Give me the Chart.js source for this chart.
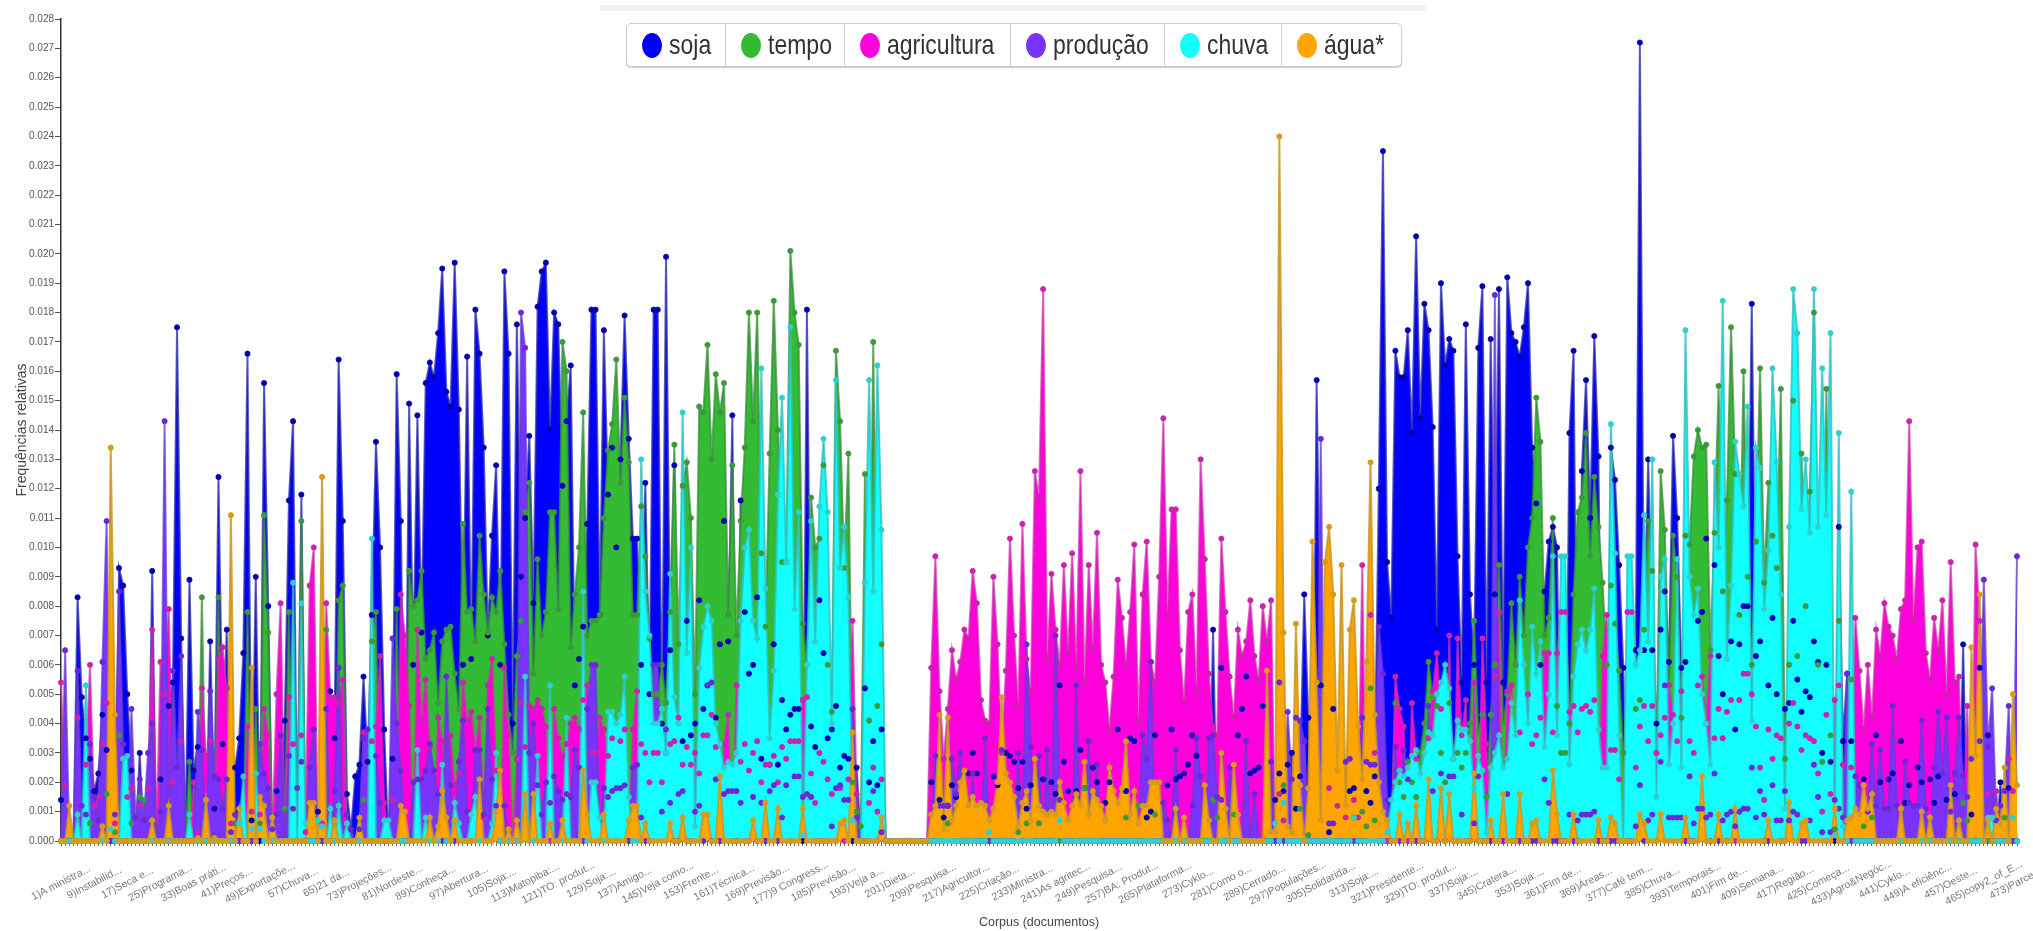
<!DOCTYPE html>
<html lang="pt">
<head>
<meta charset="utf-8">
<title>Frequências relativas</title>
<script src="https://cdn.jsdelivr.net/npm/chart.js@4/dist/chart.umd.min.js"></script>
<style>
html,body{margin:0;padding:0;background:#fff;width:2033px;height:931px;overflow:hidden;font-family:"Liberation Sans",Arial,sans-serif}
#wrap{position:relative;width:2033px;height:931px;filter:blur(.55px)}
canvas{position:absolute;left:0;top:0}
#bar{position:absolute;left:600px;top:5px;width:827px;height:6px;background:#f2f2f2}
#legend{position:absolute;left:626px;top:23px;height:42px;display:flex;border:1px solid #ccc;border-radius:5px;background:#fff;box-shadow:0 1px 1px #ccc}
.it{display:flex;align-items:center;box-sizing:border-box;padding-left:15px;border-right:1px solid #ccc;font-size:23px;color:#333;white-space:nowrap}
.it:last-child{border-right:none}
.it i{display:inline-block;width:20px;height:25px;border-radius:50%;margin-right:7px}
.it span{display:inline-block;transform:scaleY(1.18)}
</style>
</head>
<body>
<div id="wrap">
<canvas id="c" width="2033" height="931"></canvas>
<div id="bar"></div>
<div id="legend"></div>
</div>
<script>
// values are relative frequencies in units of 0.0001, one per document (473 documents), ten per row
const soja = [
14,0,0,0,83,49,35,28,17,23,
43,31,0,0,93,87,50,24,0,30,
0,0,92,0,21,0,46,54,175,69,
0,89,24,32,0,0,68,11,124,33,
72,0,25,35,64,166,7,90,0,156,
80,0,17,0,41,116,143,0,118,0,
0,0,10,0,0,51,35,164,109,16,
4,22,26,56,27,77,136,100,38,0,
28,159,109,0,149,60,145,71,156,163,
158,173,195,153,148,197,147,60,165,62,
181,166,134,70,104,128,60,194,166,40,
176,90,110,138,81,182,194,197,140,180,
176,121,143,162,53,62,73,108,181,181,
77,174,118,134,100,130,179,137,103,103,
60,122,50,181,181,40,199,65,128,0,
34,75,36,40,82,45,53,0,42,67,
109,68,145,0,116,78,57,60,83,28,
0,26,67,26,48,38,43,45,45,0,
181,39,32,82,64,35,38,46,25,29,
28,0,25,0,52,20,34,19,38,0,
0,0,0,0,0,0,0,0,0,0,
20,0,14,8,12,19,15,0,0,23,
30,23,0,0,0,22,19,0,30,29,
27,18,27,11,19,0,0,21,0,20,
16,53,27,17,0,17,31,18,0,25,
20,0,13,20,0,38,0,17,35,34,
0,0,8,10,36,0,0,19,38,21,
22,23,26,36,29,0,0,0,72,0,
59,0,0,0,36,45,56,23,24,25,
46,0,0,14,23,17,26,30,11,22,
84,42,0,157,53,0,3,45,0,0,
0,17,18,0,0,17,13,22,120,235,
95,76,167,158,158,174,139,206,144,183,
174,141,72,190,162,171,167,97,54,176,
84,60,168,189,54,171,84,188,54,192,
173,170,165,175,190,134,115,60,85,102,
107,100,0,0,139,167,0,126,157,110,
172,131,0,0,134,123,94,59,0,0,
65,272,65,130,65,40,72,85,61,138,
110,59,61,0,0,75,78,103,0,94,
63,50,0,68,38,67,80,80,183,63,
68,0,53,76,50,0,45,47,75,55,
44,51,49,68,61,30,60,27,0,107,
34,57,34,0,0,21,0,0,36,20,
0,21,23,0,34,13,19,0,25,20,
0,21,13,22,0,14,0,16,0,67,
0,9,0,59,0,36,0,0,20,0,
18,0,0];
const tempo = [
0,0,0,0,0,0,0,6,0,0,
0,16,0,3,36,0,0,6,0,15,
14,0,0,0,0,0,0,0,0,0,
0,27,0,0,83,0,0,0,83,0,
0,0,6,0,0,78,0,45,6,111,
71,0,0,0,11,78,0,0,109,0,
0,0,0,0,72,0,0,82,87,0,
0,0,0,14,0,68,78,0,0,0,
0,79,0,0,92,80,82,92,62,65,
71,47,68,72,73,57,45,108,78,79,
68,104,84,71,83,78,92,67,43,30,
63,75,112,122,57,96,70,78,112,112,
79,170,160,66,84,100,146,70,75,75,
77,110,133,142,164,122,151,129,77,77,
114,97,69,50,50,60,47,78,135,67,
121,129,110,50,148,146,169,130,159,146,
156,77,128,70,109,134,180,143,180,98,
73,132,184,140,95,95,201,180,169,74,
60,117,100,103,128,60,44,167,143,93,
132,20,10,5,125,41,170,46,67,0,
0,0,0,0,0,0,0,0,0,0,
0,0,0,0,6,0,0,0,0,0,
0,0,0,0,0,0,0,0,0,0,
0,3,0,6,0,0,6,0,0,0,
0,0,0,0,0,0,0,18,0,0,
0,0,0,0,0,0,0,8,0,0,
12,0,0,0,9,0,0,0,0,0,
0,0,0,0,0,0,0,0,14,8,
0,0,0,9,0,0,0,0,0,0,
0,0,0,0,0,19,0,0,0,11,
0,2,0,0,0,0,0,0,0,0,
0,0,8,0,10,5,52,7,0,0,
0,0,47,20,15,27,20,15,30,40,
61,49,46,30,20,47,28,30,25,30,
40,75,37,43,15,43,60,94,40,50,
81,60,90,70,100,110,151,136,70,76,
110,46,30,30,40,84,112,117,139,97,
124,107,88,60,87,74,58,30,0,0,
45,48,72,109,92,30,126,106,53,104,
90,42,104,101,131,140,134,135,65,105,
155,85,116,175,125,77,160,90,60,102,
161,88,122,104,93,154,28,60,150,63,
132,80,119,180,60,27,154,36,4,75,
0,0,55,0,0,5,0,8,0,0,
0,0,0,0,0,0,0,0,0,0,
0,0,0,0,0,0,0,0,0,13,
7,0,0,0,0,0,0,0,0,8,
0,0,0];
const agricultura = [
54,19,0,0,42,0,26,60,12,15,
33,47,0,6,0,0,15,18,0,12,
0,18,72,0,61,50,79,20,0,34,
0,0,20,3,52,29,34,0,62,66,
52,6,0,0,0,39,10,0,9,45,
36,0,50,81,0,49,33,0,36,3,
87,100,0,6,81,49,49,47,55,0,
0,0,0,37,0,34,39,63,13,0,
14,0,84,70,46,0,72,41,55,32,
0,42,34,0,36,19,23,54,41,44,
31,42,8,53,62,24,0,59,36,0,
28,47,32,46,45,48,45,39,0,45,
35,29,33,40,42,38,48,53,30,30,
42,38,29,35,0,34,38,0,38,51,
33,30,20,30,30,20,30,33,34,42,
26,32,26,30,23,36,36,43,32,0,
33,43,0,53,27,33,24,30,34,20,
26,26,29,20,32,28,34,34,34,48,
49,23,13,30,27,21,16,0,18,0,
21,75,16,0,0,13,25,10,21,0,
0,0,0,0,0,0,0,0,0,0,
59,97,51,28,45,65,55,61,72,69,
92,81,48,41,40,90,67,30,58,103,
70,46,108,62,51,126,117,188,62,91,
72,60,94,64,98,59,126,54,94,66,
105,60,54,38,56,89,76,60,78,101,
41,84,102,61,54,90,144,77,113,113,
65,47,78,84,51,130,96,57,39,36,
103,78,56,42,72,63,68,82,63,55,
80,68,82,0,16,7,0,0,0,0,
34,0,0,0,0,0,18,0,12,0,
8,0,14,8,94,0,77,30,0,0,
0,0,56,45,39,0,47,28,0,0,
35,51,64,45,0,70,0,69,36,48,
0,54,0,69,33,0,56,78,0,51,
53,0,37,0,50,33,36,42,64,64,
37,64,78,78,44,46,37,45,46,44,
48,0,63,77,31,31,21,0,78,78,
25,39,46,34,46,30,36,42,53,43,
34,51,0,34,30,53,56,40,63,35,
45,35,44,48,0,48,57,57,50,39,
25,14,38,28,36,35,0,40,47,39,
31,36,35,34,23,10,43,16,48,53,
26,0,25,76,58,38,60,42,72,63,
81,73,70,62,79,82,143,75,100,102,
64,55,76,65,82,50,95,54,56,0,
46,0,101,75,0,16,0,17,0,0,
28,17,0];
const producao = [
0,65,0,0,58,12,9,33,15,7,
61,109,0,9,85,33,0,45,8,21,
7,30,40,0,10,143,0,58,25,63,
0,0,0,44,31,0,51,22,21,11,
21,3,9,0,0,0,0,0,33,23,
18,4,9,36,0,29,11,18,27,0,
25,38,0,0,45,0,17,59,0,9,
4,0,4,35,38,0,29,13,0,0,
69,40,24,0,0,20,21,21,24,33,
24,16,0,56,19,0,27,41,10,0,
31,31,9,45,21,12,0,12,0,0,
0,180,168,30,40,19,9,20,13,22,
17,14,16,15,31,25,0,45,60,60,
0,18,15,17,18,18,19,0,25,26,
8,0,0,60,60,10,38,13,0,16,
17,0,0,10,12,0,53,54,21,0,
16,17,17,17,13,0,0,15,0,13,
0,17,19,0,8,19,0,22,22,15,
16,15,0,0,0,0,5,18,19,14,
14,45,8,0,0,0,17,0,3,0,
0,0,0,0,0,0,0,0,0,0,
0,29,12,12,12,28,16,30,0,0,
23,0,0,35,0,0,0,31,0,0,
0,30,0,67,32,0,29,0,31,0,
70,14,0,0,0,53,0,0,34,0,
26,0,0,0,0,0,0,0,0,0,
0,36,28,61,0,0,13,7,0,31,
0,0,0,12,35,22,0,35,36,15,
14,0,25,0,0,0,34,0,16,0,
0,0,27,0,54,0,44,21,42,41,
34,0,0,0,137,0,6,6,0,0,
27,28,0,0,42,27,26,26,73,57,
14,0,32,0,31,21,0,0,0,0,
46,17,0,23,0,22,22,0,9,0,
0,6,22,0,0,0,186,0,0,16,
0,0,0,0,0,0,0,0,21,13,
0,0,0,0,9,0,7,9,9,9,
10,0,0,0,0,0,0,0,0,0,
5,19,0,7,9,0,27,53,8,8,
8,8,0,22,6,11,11,8,9,23,
0,7,9,10,5,10,11,11,25,8,
17,9,0,19,7,7,17,7,10,9,
0,0,7,26,15,3,0,3,14,11,
8,57,0,22,19,0,10,33,12,31,
11,11,46,12,0,27,13,12,12,41,
11,0,25,44,23,42,10,23,42,22,
15,28,0,34,89,32,52,7,12,17,
46,0,97];
const chuva = [
0,0,0,0,9,0,53,0,0,0,
0,0,4,0,0,28,29,0,0,0,
0,0,0,0,0,0,0,0,0,0,
0,9,0,0,0,0,0,0,0,0,
0,0,0,6,22,0,4,23,4,0,
0,0,0,0,0,0,88,0,81,6,
0,0,7,5,0,11,0,12,0,6,
0,0,0,0,0,103,0,0,7,7,
0,0,0,0,0,0,31,0,8,0,
0,0,26,0,0,13,6,0,0,9,
15,0,0,0,6,30,0,0,0,0,
0,0,56,0,0,29,0,0,53,0,
0,0,42,0,0,0,85,0,20,20,
8,0,44,44,40,43,56,15,0,0,
130,85,70,40,40,45,30,91,49,40,
146,64,100,5,59,73,80,75,40,33,
25,27,26,30,75,100,106,75,69,161,
86,35,58,118,151,95,175,79,112,2,
60,109,68,114,137,112,40,157,93,107,
83,7,0,0,88,157,85,162,106,0,
0,0,0,0,0,0,0,0,0,0,
0,0,0,0,0,0,0,0,0,0,
0,0,0,0,3,0,0,0,0,0,
0,0,0,0,0,0,0,0,0,0,
0,7,0,0,0,0,0,0,0,0,
0,0,0,0,0,0,0,0,0,0,
0,0,0,0,0,0,0,0,0,0,
0,0,0,0,0,0,0,0,0,0,
0,0,0,0,0,0,0,0,0,0,
0,0,0,6,0,13,0,0,0,0,
0,0,0,0,0,0,0,0,0,0,
0,0,8,0,0,0,0,0,0,0,
3,14,20,24,22,25,29,31,23,30,
37,36,50,54,60,52,28,41,38,38,
34,18,29,24,3,25,30,36,25,28,
47,36,82,60,40,73,57,68,32,50,
97,36,97,97,26,56,67,72,65,72,
86,38,25,25,142,98,36,0,97,97,
60,65,111,68,130,15,90,96,26,40,
96,25,174,90,77,86,50,40,26,129,
100,184,62,87,136,125,114,148,41,134,
127,79,99,161,129,84,11,107,188,173,
113,130,105,188,107,161,111,173,2,139,
5,0,119,0,0,0,0,0,0,0,
0,0,0,0,0,0,0,0,0,0,
0,0,0,0,0,0,0,0,0,0,
0,0,0,0,0,8,8,0,0,0,
0,8,0];
const agua = [
0,0,12,0,0,0,0,0,0,0,
5,0,134,43,0,0,0,0,0,0,
0,0,7,0,0,0,12,0,0,0,
0,0,0,1,0,14,0,1,0,0,
0,111,0,11,0,0,59,0,15,12,
0,8,0,0,0,0,0,0,0,0,
13,13,0,124,0,0,7,0,0,0,
0,0,8,0,0,0,0,0,0,0,
0,0,12,10,0,0,0,0,0,8,
0,5,17,8,0,7,0,0,0,0,
0,21,0,0,0,10,24,0,4,0,
7,0,16,0,16,0,0,0,6,0,
0,7,0,0,0,0,24,9,0,0,
0,9,0,0,0,0,0,7,12,12,
0,6,0,0,0,0,0,6,0,0,
8,0,0,0,0,9,9,0,0,22,
0,0,0,0,0,0,0,7,0,0,
13,0,0,11,0,0,0,0,0,11,
0,0,0,0,0,0,0,0,6,7,
0,37,0,0,0,0,0,0,8,0,
0,0,0,0,0,0,0,0,0,0,
9,12,43,4,42,7,12,20,24,12,
15,12,13,12,7,11,20,49,23,20,
15,5,13,17,7,28,12,10,9,10,
9,20,13,7,12,16,12,27,9,17,
14,12,7,25,17,13,18,34,9,17,
6,12,12,20,20,20,0,0,0,11,
0,8,0,0,0,0,19,7,0,0,
30,11,0,26,9,0,0,0,0,0,
0,58,3,3,240,71,5,3,74,19,
0,18,102,54,7,95,107,84,24,94,
12,72,82,39,21,61,129,43,20,10,
7,0,0,9,0,6,0,12,0,0,
21,0,0,18,0,16,0,0,0,0,
0,23,0,0,0,7,0,0,16,0,
0,0,16,0,0,6,7,0,0,0,
24,9,0,0,0,9,0,0,0,0,
0,7,0,0,8,6,0,0,0,0,
0,9,6,0,0,0,9,0,0,0,
0,0,8,0,0,0,22,0,0,0,
9,0,0,0,11,0,0,0,0,0,
0,0,7,0,0,0,0,13,0,0,
6,7,0,0,0,0,0,0,11,0,
0,7,8,11,9,19,11,16,0,0,
0,0,0,0,11,0,0,0,0,10,
0,8,0,0,0,0,19,0,7,0,
0,66,29,84,0,7,0,11,6,25,
0,50,19];
const seriesNames = ["soja","tempo","agricultura","produção","chuva","água*"];
const xTickLabels = ["1)A ministra...","9)Instabilid...","17)Seca e...","25)Programa...","33)Boas práti...","41)Preços...","49)Exportaçõe...","57)Chuva...","65)21 da...","73)Projeções...","81)Nordeste...","89)Conheça...","97)Abertura...","105)Soja:...","113)Matopiba:...","121)TO: produt...","129)Soja:...","137)Amigo...","145)Veja como...","153)Frente...","161)Técnica...","169)Previsão...","177)9 Congress...","185)Previsão...","193)Veja a...","201)Dieta...","209)Pesquisa...","217)Agricultor...","225)Criação...","233)Ministra...","241)As agritec...","249)Pesquisa...","257)BA: Produt...","265)Plataforma...","273)Cyklo...","281)Como o...","289)Cerrado...","297)Populações...","305)Solidarida...","313)Soja:...","321)Presidente...","329)TO: produt...","337)Soja:...","345)Cratera...","353)Soja:...","361)Fim de...","369)Áreas...","377)Café tem...","385)Chuva...","393)Temporais...","401)Fim de...","409)Semana...","417)Região...","425)Começa...","433)Agro&Negóc...","441)Cyklo...","449)A eficiênc...","457)Oeste...","465)copy2_of_E...","473)Parcer..."];

const allSeries = [soja,tempo,agricultura,producao,chuva,agua];
const fillColors = ["#0000ff","#33bb33","#ff00dd","#7a33ff","#11ffff","#ffa500"];
const lineColors = ["rgba(40,40,170,.75)","rgba(60,140,60,.75)","rgba(200,50,170,.7)","rgba(100,60,210,.75)","rgba(50,190,190,.8)","rgba(200,150,40,.85)"];
const dotColors  = ["#0000b0","#3a9a3a","#cc22b0","#6a28d8","#2fd0d0","#d89a18"];
const categories = soja.map((_,i)=>i+1);
const toFreq = a => a.map(v=>v/10000);

const areaSets = allSeries.map((a,k)=>({
  label:seriesNames[k], data:toFreq(a), order:20-k, fill:'origin', tension:0,
  backgroundColor:fillColors[k], borderColor:lineColors[k], borderWidth:2,
  pointRadius:0, pointHoverRadius:0
}));
const dotSets = allSeries.map((a,k)=>({
  label:seriesNames[k]+" pontos", data:toFreq(a), order:6-k, fill:false, showLine:false, clip:false,
  backgroundColor:dotColors[k], borderColor:dotColors[k], pointBackgroundColor:dotColors[k],
  pointBorderColor:dotColors[k], pointRadius:2.6, pointBorderWidth:0.8
}));

const centeredLabels = {
  id:'centeredLabels',
  afterDraw(chart){
    const x = chart.scales.x, ctx = chart.ctx;
    ctx.save();
    ctx.font = '10.5px "Liberation Sans", Arial, sans-serif';
    ctx.fillStyle = '#777';
    ctx.textAlign = 'center';
    ctx.textBaseline = 'middle';
    xTickLabels.forEach((t,j)=>{
      const px = x.getPixelForValue(j*8);
      ctx.save();
      ctx.translate(px, 883);
      ctx.rotate(-27*Math.PI/180);
      ctx.fillText(t,0,0);
      ctx.restore();
    });
    ctx.restore();
  }
};

new Chart(document.getElementById('c'),{
  type:'line',
  data:{labels:categories,datasets:[...areaSets,...dotSets]},
  plugins:[centeredLabels],
  options:{
    responsive:false, animation:false, events:[],
    layout:{padding:{left:0,top:19,right:16,bottom:0}},
    plugins:{legend:{display:false},tooltip:{enabled:false}},
    scales:{
      x:{
        type:'category', offset:false,
        afterFit(s){ s.height = 90; },
        grid:{drawOnChartArea:false,drawTicks:true,tickLength:5,color:'#6b6b55',lineWidth:1},
        border:{color:'#333',width:1.5},
        ticks:{display:false,autoSkip:false},
        title:{display:true,text:'Corpus (documentos)',color:'#444',font:{size:12.5,family:'"Liberation Sans", Arial, sans-serif'},padding:{top:0,bottom:1}}
      },
      y:{
        min:0,max:0.028,
        afterFit(s){ s.width = 61; },
        afterBuildTicks(s){ s.ticks = Array.from({length:29},(_,i)=>({value:i/1000})); },
        grid:{drawOnChartArea:false,drawTicks:true,tickLength:6,color:'#555',lineWidth:1},
        border:{color:'#333',width:1.5},
        ticks:{autoSkip:false,padding:1,color:'#555',font:{size:10,family:'"Liberation Sans", Arial, sans-serif'},callback:v=>Number(v).toFixed(3)},
        title:{display:true,text:'Frequências relativas',color:'#444',font:{size:14,family:'"Liberation Sans", Arial, sans-serif'},padding:{top:14,bottom:0}}
      }
    }
  }
});

const legend = document.getElementById('legend');
const legendWidths = [99,119,166,154,117,119];
seriesNames.forEach((name,k)=>{
  const d = document.createElement('div');
  d.className='it';
  d.style.width = legendWidths[k]+'px';
  const dot = document.createElement('i');
  dot.style.background = fillColors[k];
  d.appendChild(dot);
  const label = document.createElement('span');
  label.textContent = name;
  d.appendChild(label);
  legend.appendChild(d);
});
</script>
</body>
</html>
